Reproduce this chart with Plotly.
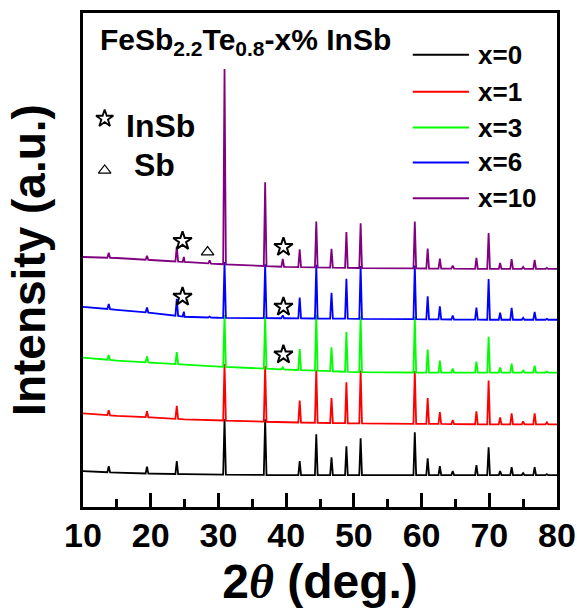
import numpy as np
import plotly.graph_objects as go

# ---------------- data ----------------
series_labels = ["x=0", "x=1", "x=3", "x=6", "x=10"]
series_colors = ["#000000", "#FF0000", "#00FF00", "#0000FF", "#800080"]

# shared reflection positions (2theta, deg)
peak_two_theta = [13.8, 19.45, 23.85, 24.9, 28.7, 30.9, 36.9, 39.5, 42.0, 44.45,
                  46.7, 48.9, 51.0, 59.0, 60.9, 62.7, 64.6, 68.1, 69.9, 71.6,
                  73.3, 75.0, 76.7, 78.5]

# background knots (2theta) and background level of each (stacked) pattern
bg_two_theta = [10, 15, 20, 25, 30, 40, 50, 60, 70, 80]
bg_x0 = [36, 34.5, 33.5, 33, 32.5, 32, 32, 32, 32, 32]
bg_x1 = [94, 91.5, 90, 88, 87, 85, 84, 83.5, 83, 83]
bg_x3 = [150, 147, 145, 143, 141, 138, 135.5, 135, 135, 135]
bg_x6 = [201, 198, 195, 191, 190, 189.5, 189, 188.5, 188, 188]
bg_x10 = [251, 250, 248, 246, 244, 241, 240, 239.5, 239, 239]

# peak intensities above background (a.u.), one per reflection
peaks_x0 = [6, 7, 13, 0, 0, 56, 56, 0, 14, 41, 18, 29, 37, 43, 17, 9, 4, 10, 28, 4, 8, 2, 8, 1]
peaks_x1 = [5, 6, 13, 0, 0, 57, 56, 0, 22, 53, 25, 41, 53, 53, 26, 12, 4, 13, 44, 7, 11, 3, 11, 2]
peaks_x3 = [5, 6, 12, 0, 0, 52, 52, 2, 21, 56, 24, 40, 56, 56, 23, 12, 4, 11, 36, 5, 9, 2, 7, 1]
peaks_x6 = [5, 5, 17, 5, 1, 56, 54, 3, 21, 54, 26, 40, 53, 54, 23, 13, 4, 12, 41, 7, 12, 2, 8, 1]
peaks_x10 = [5, 4, 15, 5, 3, 196, 84, 8, 18, 46, 19, 36, 45, 47, 20, 10, 3, 11, 36, 6, 10, 2, 9, 1]

# phase markers
insb_two_theta = [24.7, 39.6, 24.7, 39.6, 39.6]
insb_level = [267, 261, 211, 201, 153]
sb_two_theta = [28.4]
sb_level = [256]

backgrounds = [bg_x0, bg_x1, bg_x3, bg_x6, bg_x10]
peak_sets = [peaks_x0, peaks_x1, peaks_x3, peaks_x6, peaks_x10]

HALF_W = 0.2  # peak half width (deg)


def build_pattern(bg, peaks):
    pts = list(zip(bg_two_theta, bg))
    for p, h in zip(peak_two_theta, peaks):
        if h <= 0:
            continue
        base = float(np.interp(p, bg_two_theta, bg))
        base_l = float(np.interp(p - HALF_W, bg_two_theta, bg))
        base_r = float(np.interp(p + HALF_W, bg_two_theta, bg))
        pts += [(p - HALF_W, base_l), (p, base + h), (p + HALF_W, base_r)]
    pts.sort(key=lambda t: t[0])
    return [t[0] for t in pts], [t[1] for t in pts]


fig = go.Figure()
for lab, col, bg, pk in zip(series_labels, series_colors, backgrounds, peak_sets):
    xs, ys = build_pattern(bg, pk)
    fig.add_trace(go.Scatter(x=xs, y=ys, mode="lines", name=lab,
                             line=dict(color=col, width=1.8), showlegend=False,
                             hoverinfo="skip"))

fig.add_trace(go.Scatter(x=insb_two_theta, y=insb_level, mode="markers",
                         marker=dict(symbol="star-open", size=14, color="black",
                                     line=dict(width=2, color="black")),
                         showlegend=False, hoverinfo="skip"))
fig.add_trace(go.Scatter(x=sb_two_theta, y=sb_level, mode="markers",
                         marker=dict(symbol="triangle-up-open", size=11, color="black",
                                     line=dict(width=1.2, color="black")),
                         showlegend=False, hoverinfo="skip"))

# key symbols (top-left)
fig.add_trace(go.Scatter(x=[13.2], y=[390], mode="markers",
                         marker=dict(symbol="star-open", size=13, color="black",
                                     line=dict(width=1.8, color="black")),
                         showlegend=False, hoverinfo="skip"))
fig.add_trace(go.Scatter(x=[13.2], y=[338], mode="markers",
                         marker=dict(symbol="triangle-up-open", size=11, color="black",
                                     line=dict(width=1.2, color="black")),
                         showlegend=False, hoverinfo="skip"))

FONT = "Liberation Sans, Arial, sans-serif"
annotations = [
    dict(x=12.15, y=467, xref="x", yref="y", xanchor="left", yanchor="middle",
         text="FeSb<sub>2.2</sub>Te<sub>0.8</sub>-x% InSb", showarrow=False,
         font=dict(family=FONT, size=30, color="black", weight="bold")),
    dict(x=16.0, y=383, xref="x", yref="y", xanchor="left", yanchor="middle",
         text="InSb", showarrow=False,
         font=dict(family=FONT, size=32, color="black", weight="bold")),
    dict(x=17.2, y=343, xref="x", yref="y", xanchor="left", yanchor="middle",
         text="Sb", showarrow=False,
         font=dict(family=FONT, size=32, color="black", weight="bold")),
]

# manual legend (line + label)
legend_levels = [454, 417, 381, 346, 310]
shapes = []
for lab, col, ly in zip(series_labels, series_colors, legend_levels):
    shapes.append(dict(type="line", xref="x", yref="y", x0=58.7, x1=67.0, y0=ly, y1=ly,
                       line=dict(color=col, width=2)))
    annotations.append(dict(x=68.1, y=ly, xref="x", yref="y", xanchor="left",
                            yanchor="middle", text=lab, showarrow=False,
                            font=dict(family=FONT, size=26, color="black", weight="bold")))

fig.update_layout(
    width=577, height=615,
    margin=dict(l=83, r=20, t=13, b=108, autoexpand=False),
    paper_bgcolor="white", plot_bgcolor="white",
    showlegend=False,
    shapes=shapes, annotations=annotations,
    font=dict(family=FONT, color="black"),
)
fig.update_xaxes(
    range=[10, 80], tickmode="array", tickvals=list(range(10, 81, 10)),
    ticks="inside", ticklen=14, tickwidth=3, tickcolor="black",
    minor=dict(ticks="inside", ticklen=8, tickwidth=3, tickcolor="black",
               tickmode="array", tickvals=list(range(15, 80, 10))),
    showline=True, linewidth=3, linecolor="black", mirror=True,
    showgrid=False, zeroline=False, automargin=False,
    ticklabelstandoff=-4,
    tickfont=dict(family=FONT, size=34, color="black", weight="bold"),
    title=dict(text="2<span style=\"font-family:Liberation Serif\"><i>θ</i></span> (deg.)",
               font=dict(family=FONT, size=48, color="black", weight="bold"), standoff=12),
)
fig.update_yaxes(
    range=[0, 496], showticklabels=False, ticks="",
    showline=True, linewidth=3, linecolor="black", mirror=True,
    showgrid=False, zeroline=False, automargin=False,
    title=dict(text="Intensity (a.u.)",
               font=dict(family=FONT, size=46, color="black", weight="bold"), standoff=20),
)

fig.write_html("out.html")
